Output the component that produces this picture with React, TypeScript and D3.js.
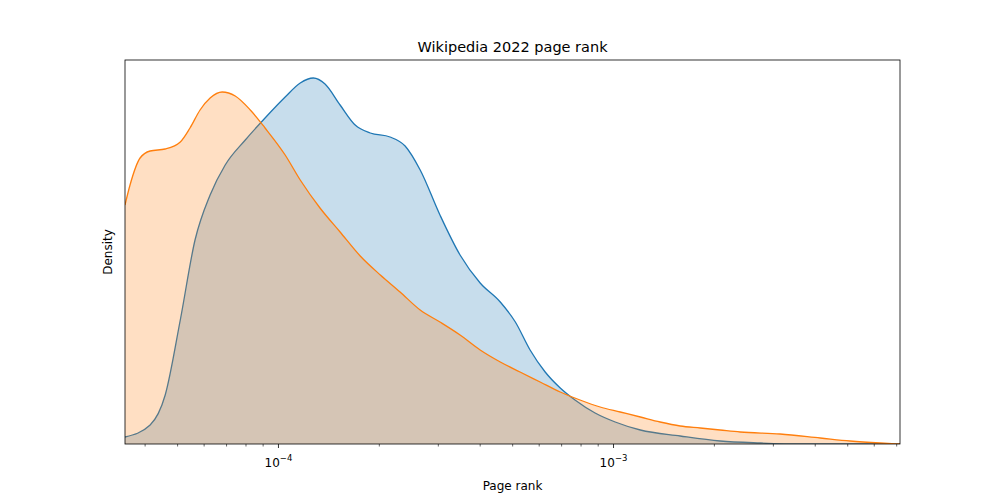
import React from "react";
import * as d3 from "d3";

const blueLog = [-4.458,-4.383,-4.338,-4.293,-4.249,-4.204,-4.159,-4.099,-4.040,-3.980,-3.935,-3.896,-3.861,-3.816,-3.771,-3.726,-3.667,-3.622,-3.577,-3.518,-3.458,-3.398,-3.338,-3.293,-3.249,-3.204,-3.159,-3.115,-3.055,-2.995,-2.920,-2.801,-2.682,-2.562,-2.443,-2.145];
const blueDensity = [0.07,0.19,0.49,1.24,2.04,2.49,2.79,3.04,3.26,3.47,3.61,3.66,3.60,3.39,3.19,3.11,3.07,2.98,2.74,2.29,1.89,1.61,1.42,1.22,0.94,0.72,0.56,0.44,0.31,0.22,0.14,0.08,0.03,0.01,0.0,0.0];
const orangeLog = [-4.458,-4.443,-4.413,-4.383,-4.338,-4.293,-4.264,-4.234,-4.204,-4.168,-4.129,-4.084,-4.040,-3.980,-3.935,-3.876,-3.816,-3.756,-3.696,-3.637,-3.577,-3.518,-3.458,-3.398,-3.338,-3.279,-3.219,-3.159,-3.100,-3.040,-2.980,-2.920,-2.861,-2.801,-2.741,-2.682,-2.622,-2.503,-2.383,-2.294,-2.204,-2.145];
const orangeDensity = [2.39,2.59,2.86,2.93,2.95,3.02,3.16,3.34,3.46,3.52,3.48,3.34,3.16,2.89,2.64,2.36,2.12,1.88,1.69,1.52,1.34,1.22,1.09,0.94,0.82,0.72,0.62,0.52,0.44,0.37,0.32,0.27,0.22,0.18,0.16,0.14,0.12,0.10,0.06,0.03,0.01,0.0];
const xTickLabels = ["−4", "−3"];
const xTickValues = [1e-4, 1e-3];

export default function App() {
  const W = 1000, H = 500;
  const m = { l: 125, r: 900, t: 60, b: 444 };
  const x = d3.scaleLog().domain([Math.pow(10, -4.458), Math.pow(10, -2.145)]).range([m.l, m.r]);
  const y = d3.scaleLinear().domain([0, 3.84]).range([m.b, m.t]);
  const mk = (lg: number[], dn: number[]) => lg.map((l, i) => [Math.pow(10, l), dn[i]] as [number, number]);
  const blue = mk(blueLog, blueDensity);
  const orange = mk(orangeLog, orangeDensity);
  const area = d3.area<[number, number]>().x(d => x(d[0])).y0(y(0)).y1(d => y(d[1])).curve(d3.curveMonotoneX);
  const line = d3.line<[number, number]>().x(d => x(d[0])).y(d => y(d[1])).curve(d3.curveMonotoneX);
  const minor: number[] = [];
  for (let e = -5; e <= -3; e++) for (let k = 2; k <= 9; k++) {
    const v = k * Math.pow(10, e);
    if (v >= x.domain()[0] && v <= x.domain()[1]) minor.push(v);
  }
  const font = "DejaVu Sans, sans-serif";
  return (
    <svg width={W} height={H} style={{ position: "absolute", left: 0, top: 0 }} fontFamily={font}>
      <rect width={W} height={H} fill="white" />
      <defs>
        <clipPath id="c"><rect x={m.l} y={m.t} width={m.r - m.l} height={m.b - m.t} /></clipPath>
      </defs>
      <g clipPath="url(#c)">
        <path d={area(blue)!} fill="rgba(31,119,180,0.25)" />
        <path d={line(blue)!} fill="none" stroke="#1f77b4" strokeWidth={1.3} />
        <path d={area(orange)!} fill="rgba(255,127,14,0.25)" />
        <path d={line(orange)!} fill="none" stroke="#ff7f0e" strokeWidth={1.3} />
      </g>
      <rect x={m.l} y={m.t} width={m.r - m.l} height={m.b - m.t} fill="none" stroke="black" strokeWidth={0.8} />
      {minor.map((v, i) => (
        <line key={i} x1={x(v)} x2={x(v)} y1={m.b} y2={m.b + 2.5} stroke="black" strokeWidth={0.6} />
      ))}
      {xTickValues.map((v, i) => (
        <g key={i}>
          <line x1={x(v)} x2={x(v)} y1={m.b} y2={m.b + 4} stroke="black" strokeWidth={0.8} />
          <text x={x(v)} y={m.b + 23} textAnchor="middle" fontSize={12}>
            10<tspan dy={-6} fontSize={8.5}>{xTickLabels[i]}</tspan>
          </text>
        </g>
      ))}
      <text x={(m.l + m.r) / 2} y={490} textAnchor="middle" fontSize={12}>Page rank</text>
      <text transform={`translate(112,${(m.t + m.b) / 2}) rotate(-90)`} textAnchor="middle" fontSize={12}>Density</text>
      <text x={(m.l + m.r) / 2} y={52} textAnchor="middle" fontSize={14.5}>Wikipedia 2022 page rank</text>
    </svg>
  );
}
